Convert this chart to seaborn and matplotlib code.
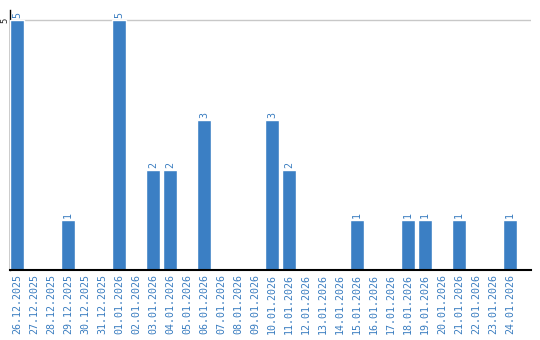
import matplotlib
matplotlib.use("Agg")
import matplotlib.pyplot as plt
import seaborn as sns
import pandas as pd

dates = ["26.12.2025", "27.12.2025", "28.12.2025", "29.12.2025", "30.12.2025",
         "31.12.2025", "01.01.2026", "02.01.2026", "03.01.2026", "04.01.2026",
         "05.01.2026", "06.01.2026", "07.01.2026", "08.01.2026", "09.01.2026",
         "10.01.2026", "11.01.2026", "12.01.2026", "13.01.2026", "14.01.2026",
         "15.01.2026", "16.01.2026", "17.01.2026", "18.01.2026", "19.01.2026",
         "20.01.2026", "21.01.2026", "22.01.2026", "23.01.2026", "24.01.2026"]
counts = [5, 0, 0, 1, 0, 0, 5, 0, 2, 2, 0, 3, 0, 0, 0,
          3, 2, 0, 0, 0, 1, 0, 0, 1, 1, 0, 1, 0, 0, 1]

df = pd.DataFrame({"date": dates, "count": counts})

sns.set_style("white")
bar_color = "#3b7fc4"
label_color = "#3a7dc0"

fig = plt.figure(figsize=(5.4, 3.4), dpi=100)
ax = fig.add_axes([10/540, 70/340, 521/540, 260/340])

sns.barplot(data=df, x="date", y="count", color=bar_color, width=0.82,
            saturation=1, ax=ax, zorder=3)

ax.set_xlim(-0.41, 30.24)
ax.set_ylim(0, 5.2)
ax.set_yticks([5])
ax.set_yticklabels(["5"], rotation=90, va="center", fontsize=6.5,
                   family="DejaVu Sans Mono")
ax.tick_params(axis="y", length=0, pad=0.5)
ax.tick_params(axis="x", length=0, pad=3)
ax.set_xticks(range(len(dates)))
ax.set_xticklabels(dates, rotation=90, fontsize=7.2, color=label_color,
                   family="DejaVu Sans Mono")
ax.yaxis.grid(True, color="#c8c8c8", linewidth=1, zorder=0)
ax.set_axisbelow(True)
ax.set_xlabel("")
ax.set_ylabel("")

for s in ["top", "right"]:
    ax.spines[s].set_visible(False)
ax.spines["left"].set_color("black")
ax.spines["left"].set_linewidth(1)
ax.spines["left"].set_zorder(1)
ax.spines["bottom"].set_color("black")
ax.spines["bottom"].set_linewidth(1.5)
ax.spines["bottom"].set_zorder(4)

for i, v in enumerate(counts):
    if v > 0:
        ax.text(i, v + 0.04, str(v), rotation=90, ha="center", va="bottom",
                fontsize=7.2, color=label_color, family="DejaVu Sans Mono")

fig.savefig("out.png", dpi=100)
